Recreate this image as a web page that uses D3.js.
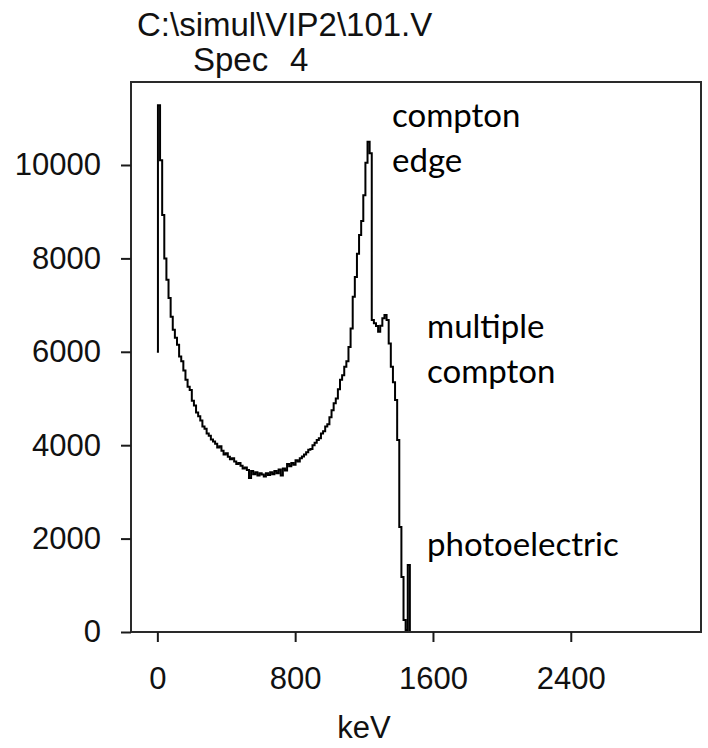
<!DOCTYPE html>
<html>
<head>
<meta charset="utf-8">
<script src="https://cdn.jsdelivr.net/npm/d3@7"></script>
<style>
  html, body { margin: 0; padding: 0; background: #fff; }
  svg { display: block; }
</style>
</head>
<body>
<div id="chart"></div>
<script>
// ---- data ----
const titleLines = ["C:\\simul\\VIP2\\101.V", "Spec", "4"];
const xLabel = "keV";
const xTicks = [0, 800, 1600, 2400];
const yTicks = [0, 2000, 4000, 6000, 8000, 10000];
// channel calibration (keV per channel, offset)
const calGain = 12.29;
const calOffset = -2.75;
// counts per channel
const counts = [
  6000, 11280, 10100, 8930, 8000, 7540, 7150, 6750, 6470, 6300,
  6150, 5900, 5800, 5600, 5400, 5250, 5180, 4950, 4850, 4700,
  4620, 4530, 4400, 4350, 4250, 4200, 4120, 4080, 4030, 3950,
  3980, 3880, 3800, 3830, 3750, 3700, 3720, 3650, 3600, 3620,
  3560, 3500, 3520, 3470, 3300, 3450, 3380, 3420, 3350, 3400,
  3370, 3330, 3400, 3360, 3420, 3380, 3450, 3400, 3480, 3350,
  3500, 3460, 3600, 3550, 3620, 3580, 3680, 3650, 3720, 3760,
  3800, 3850, 3900, 3920, 4000, 4050, 4110, 4150, 4250, 4300,
  4400, 4450, 4600, 4750, 4900, 5000, 5200, 5400, 5500, 5680,
  5800, 6100, 6500, 7180, 7600, 8100, 8500, 8800, 9350, 10050,
  10500, 10250, 6680, 6610, 6550, 6430, 6560, 6720, 6790, 6680,
  6180, 5680, 5350, 4970, 4110, 2250, 1180, 257, 40, 1435,
  0, 0
];
const annotations = [
  {lines: ["compton", "edge"], x: 392, y: 127},
  {lines: ["multiple", "compton"], x: 427, y: 338},
  {lines: ["photoelectric"], x: 427, y: 556}
];

// ---- layout ----
const W = 708, H = 748;
const frame = {left: 131, right: 701, top: 82, bottom: 632};

const svg = d3.select("#chart").append("svg")
  .attr("width", W).attr("height", H);

const x = d3.scaleLinear().domain([-153, 3156]).range([frame.left, frame.right]);
const y = d3.scaleLinear().domain([0, 11777]).range([frame.bottom, frame.top]);

// spectrum
const pts = counts.map((c, i) => [calOffset + calGain * i, c]);
const line = d3.line()
  .x(d => x(d[0])).y(d => y(d[1]))
  .curve(d3.curveStep);
svg.append("path")
  .datum(pts)
  .attr("d", line)
  .attr("fill", "none")
  .attr("stroke", "#000")
  .attr("stroke-width", 2)
  .attr("stroke-linejoin", "miter");

// frame
svg.append("rect")
  .attr("x", frame.left).attr("y", frame.top)
  .attr("width", frame.right - frame.left)
  .attr("height", frame.bottom - frame.top)
  .attr("fill", "none")
  .attr("stroke", "#2a2a2a")
  .attr("stroke-width", 2);

const tickFont = "'Liberation Sans', Arial, sans-serif";

// x axis
const xAxis = svg.append("g")
  .attr("transform", `translate(0,${frame.bottom})`)
  .call(d3.axisBottom(x).tickValues(xTicks).tickSize(10).tickPadding(25).tickFormat(d3.format("d")));
xAxis.select(".domain").remove();
xAxis.selectAll(".tick line").attr("stroke", "#1a1a1a").attr("stroke-width", 2);
xAxis.selectAll(".tick text")
  .attr("font-family", tickFont).attr("font-size", 31).attr("fill", "#111");

// y axis
const yAxis = svg.append("g")
  .attr("transform", `translate(${frame.left},0)`)
  .call(d3.axisLeft(y).tickValues(yTicks).tickSize(10).tickPadding(20).tickFormat(d3.format("d")));
yAxis.select(".domain").remove();
yAxis.selectAll(".tick line").attr("stroke", "#1a1a1a").attr("stroke-width", 2);
yAxis.selectAll(".tick text")
  .attr("font-family", tickFont).attr("font-size", 31).attr("fill", "#111");

// titles
svg.append("text").attr("x", 137).attr("y", 36)
  .attr("font-family", tickFont).attr("font-size", 33).attr("fill", "#111")
  .text(titleLines[0]);
svg.append("text").attr("x", 193).attr("y", 71)
  .attr("font-family", tickFont).attr("font-size", 33).attr("fill", "#111")
  .text(titleLines[1]);
svg.append("text").attr("x", 290).attr("y", 71)
  .attr("font-family", tickFont).attr("font-size", 33).attr("fill", "#111")
  .text(titleLines[2]);

// x label
svg.append("text").attr("x", x(1200)).attr("y", 738)
  .attr("text-anchor", "middle")
  .attr("font-family", tickFont).attr("font-size", 31).attr("fill", "#111")
  .text(xLabel);

// annotations
const annFont = "Lato, 'Open Sans', sans-serif";
annotations.forEach(a => {
  const t = svg.append("text")
    .attr("font-family", annFont).attr("font-size", 33).attr("fill", "#000");
  a.lines.forEach((s, i) => {
    t.append("tspan").attr("x", a.x).attr("y", a.y + i * 45).text(s);
  });
});
</script>
</body>
</html>
